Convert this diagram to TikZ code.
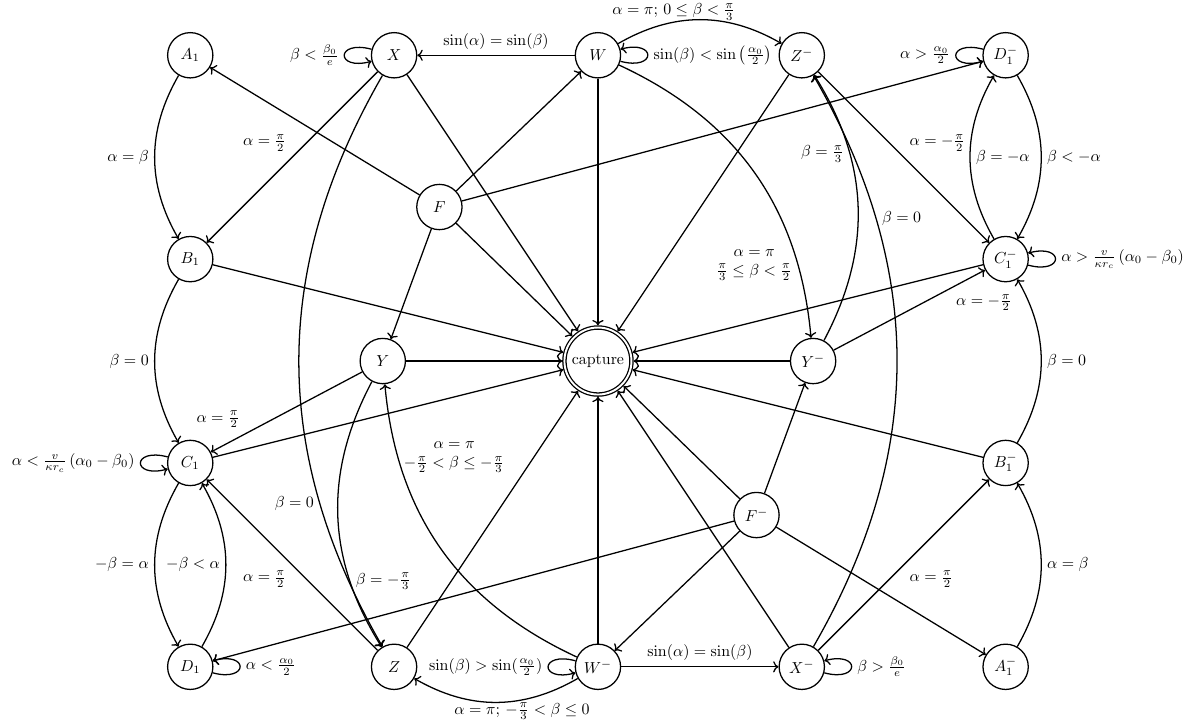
\documentclass[tikz,border=0pt]{standalone}
\usepackage{amsmath,amssymb}
\usepackage{tikz}
\usetikzlibrary{arrows.meta,positioning}

\begin{document}
\begin{tikzpicture}[
  st/.style={circle,draw,thick,minimum size=1cm,inner sep=0pt},
  acc/.style={circle,draw,thick,double,double distance=1.2pt,inner sep=3.33pt,outer sep=1.4pt},
  arr/.style={-{To},thick},
  lpl/.style={out=165,in=195,looseness=8},
  lpr/.style={out=-15,in=15,looseness=8}]
\useasboundingbox (-13.2,-8.01) rectangle (13.07,7.97);
% states
\node[acc] (cap) at (0,0) {capture};
\node[st] (A1) at (-9,6.75) {$A_1$};
\node[st] (X) at (-4.5,6.75) {$X$};
\node[st] (W) at (0,6.75) {$W$};
\node[st] (Zm) at (4.5,6.75) {$Z^-$};
\node[st] (D1m) at (9,6.75) {$D_1^-$};
\node[st] (B1) at (-9,2.25) {$B_1$};
\node[st] (C1m) at (9,2.25) {$C_1^-$};
\node[st] (F) at (-3.5,3.4) {$F$};
\node[st] (Y) at (-4.75,0) {$Y$};
\node[st] (Ym) at (4.75,0) {$Y^-$};
\node[st] (Fm) at (3.5,-3.4) {$F^-$};
\node[st] (C1) at (-9,-2.25) {$C_1$};
\node[st] (B1m) at (9,-2.25) {$B_1^-$};
\node[st] (D1) at (-9,-6.75) {$D_1$};
\node[st] (Z) at (-4.5,-6.75) {$Z$};
\node[st] (Wm) at (0,-6.75) {$W^-$};
\node[st] (Xm) at (4.5,-6.75) {$X^-$};
\node[st] (A1m) at (9,-6.75) {$A_1^-$};
% into capture
\foreach \s in {X,F,W,Zm,B1,Y,C1,C1m,Ym,B1m,Z,Wm,Fm,Xm}
  \draw[arr] (\s) -- (cap);
\foreach \t in {A1,W,D1m,Y}
  \draw[arr] (F) -- (\t);
\foreach \t in {D1,Wm,Ym,A1m}
  \draw[arr] (Fm) -- (\t);
% top row
\draw[arr] (W) -- node[above]{$\sin(\alpha)=\sin(\beta)$} (X);
\draw[arr] (X) to[lpl] node[left]{$\beta<\frac{\beta_0}{e}$} (X);
\draw[arr] (W) to[lpr] node[right]{$\sin(\beta)<\sin\left(\frac{\alpha_0}{2}\right)$} (W);
\draw[arr] (W) to[bend left] node[pos=0.34,above,inner sep=0.8pt]{$\alpha=\pi$; $0\leq\beta<\frac{\pi}{3}$} (Zm);
\draw[arr] (D1m) to[lpl] node[left]{$\alpha>\frac{\alpha_0}{2}$} (D1m);
% left side
\draw[arr] (A1) to[bend right] node[left]{$\alpha=\beta$} (B1);
\draw[arr] (B1) to[bend right] node[left]{$\beta=0$} (C1);
\draw[arr] (C1) to[bend right] node[left]{$-\beta=\alpha$} (D1);
\draw[arr] (D1) to[bend right] node[left]{$-\beta<\alpha$} (C1);
\draw[arr] (C1) to[lpl] node[left]{$\alpha<\frac{v}{\kappa r_c}\left(\alpha_0-\beta_0\right)$} (C1);
\draw[arr] (D1) to[lpr] node[right]{$\alpha<\frac{\alpha_0}{2}$} (D1);
\draw[arr] (X) -- node[above left]{$\alpha=\frac{\pi}{2}$} (B1);
\draw[arr] (Y) -- node[pos=0.77,above left]{$\alpha=\frac{\pi}{2}$} (C1);
\draw[arr] (Z) -- node[below left]{$\alpha=\frac{\pi}{2}$} (C1);
\draw[arr] (X) to[bend right] node[pos=0.75,left]{$\beta=0$} (Z);
\draw[arr] (Y) to[bend right] node[pos=0.75,right]{$\beta=-\frac{\pi}{3}$} (Z);
\draw[arr] (Wm) to[bend left] node[pos=0.8,right,align=center]{$\alpha=\pi$\\$-\frac{\pi}{2}<\beta\leq-\frac{\pi}{3}$} (Y);
% bottom row
\draw[arr] (Wm) -- node[above]{$\sin(\alpha)=\sin(\beta)$} (Xm);
\draw[arr] (Wm) to[lpl] node[left]{$\sin(\beta)>\sin(\frac{\alpha_0}{2})$} (Wm);
\draw[arr] (Xm) to[lpr] node[right]{$\beta>\frac{\beta_0}{e}$} (Xm);
\draw[arr] (Wm) to[bend left] node[pos=0.34,below,inner sep=1.5pt]{$\alpha=\pi$; $-\frac{\pi}{3}<\beta\leq0$} (Z);
% right side
\draw[arr] (A1m) to[bend right] node[right]{$\alpha=\beta$} (B1m);
\draw[arr] (B1m) to[bend right] node[right]{$\beta=0$} (C1m);
\draw[arr] (C1m) to[bend left] node[right]{$\beta=-\alpha$} (D1m);
\draw[arr] (D1m) to[bend left] node[right]{$\beta<-\alpha$} (C1m);
\draw[arr] (C1m) to[lpr] node[right]{$\alpha>\frac{v}{\kappa r_c}\left(\alpha_0-\beta_0\right)$} (C1m);
\draw[arr] (Xm) -- node[below right]{$\alpha=\frac{\pi}{2}$} (B1m);
\draw[arr] (Ym) -- node[pos=0.77,below right]{$\alpha=-\frac{\pi}{2}$} (C1m);
\draw[arr] (Zm) -- node[above right]{$\alpha=-\frac{\pi}{2}$} (C1m);
\draw[arr] (Xm) to[bend right] node[pos=0.75,right]{$\beta=0$} (Zm);
\draw[arr] (Ym) to[bend right] node[pos=0.7,left]{$\beta=\frac{\pi}{3}$} (Zm);
\draw[arr] (W) to[bend left] node[pos=0.8,left,align=center]{$\alpha=\pi$\\$\frac{\pi}{3}\leq\beta<\frac{\pi}{2}$} (Ym);
\end{tikzpicture}
\end{document}
